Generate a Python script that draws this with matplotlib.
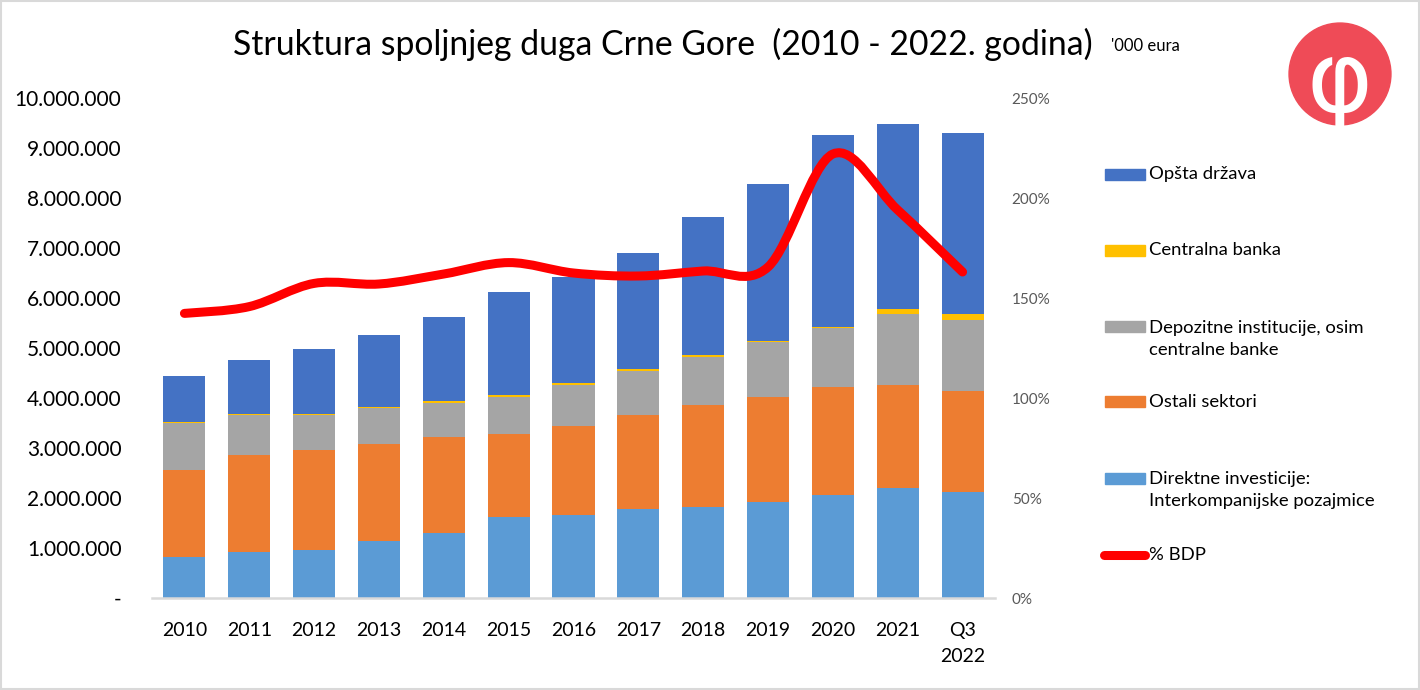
import numpy as np
import matplotlib.pyplot as plt
from matplotlib.path import Path
from matplotlib.patches import PathPatch, Rectangle, Circle
from matplotlib.lines import Line2D
from matplotlib.ticker import FuncFormatter, MultipleLocator

plt.rcParams['font.family'] = ['Lato', 'DejaVu Sans']

## Data ('000 eura)
years = ['2010', '2011', '2012', '2013', '2014', '2015', '2016',
         '2017', '2018', '2019', '2020', '2021', 'Q3\n2022']
direktne = [820000, 930000, 970000, 1140000, 1300000, 1620000, 1660000,
            1780000, 1820000, 1930000, 2060000, 2210000, 2130000]
ostali = [1740000, 1930000, 1990000, 1940000, 1920000, 1660000, 1780000,
          1880000, 2040000, 2090000, 2160000, 2050000, 2010000]
depozitne = [940000, 800000, 700000, 720000, 680000, 740000, 820000,
             880000, 960000, 1100000, 1180000, 1420000, 1420000]
centralna = [20000, 20000, 20000, 20000, 40000, 40000, 40000,
             40000, 40000, 20000, 20000, 100000, 120000]
opsta = [920000, 1080000, 1300000, 1440000, 1680000, 2060000, 2130000,
         2320000, 2760000, 3140000, 3840000, 3700000, 3620000]
bdp = [142.3, 145.7, 157.3, 157.0, 162.0, 167.7, 162.5,
       161.0, 163.5, 165.5, 222.0, 194.0, 163.0]

names = ['Opšta država', 'Centralna banka',
         'Depozitne institucije, osim\ncentralne banke', 'Ostali sektori',
         'Direktne investicije:\nInterkompanijske pozajmice', '% BDP']
title = 'Struktura spoljnjeg duga Crne Gore  (2010 - 2022. godina)'

W, H = 1420, 690
fig = plt.figure(figsize=(W / 100, H / 100), dpi=100)


def fx(px):
    return px / W


def fy(py):
    return 1 - py / H


ax = fig.add_axes([fx(152), fy(598), fx(995) - fx(152), fy(98) - fy(598)])
x = np.arange(len(years))

# stacked bars, bottom to top
stack = [(direktne, '#5B9BD5'), (ostali, '#ED7D31'), (depozitne, '#A5A5A5'),
         (centralna, '#FFC000'), (opsta, '#4472C4')]
bottom = np.zeros(len(years))
for vals, col in stack:
    vals = np.array(vals, dtype=float)
    ax.bar(x, vals, 0.65, bottom=bottom, color=col, linewidth=0)
    bottom += vals

ax.set_xlim(-0.5, len(years) - 0.5)
ax.set_ylim(0, 10000000)
ax.yaxis.set_major_locator(MultipleLocator(1000000))
ax.yaxis.set_major_formatter(FuncFormatter(
    lambda v, p: '-' if v == 0 else f'{int(v):,}'.replace(',', '.')))
ax.set_xticks(x)
ax.set_xticklabels(years, fontsize=14, linespacing=1.7)
ax.tick_params(axis='x', length=0, pad=17)
ax.tick_params(axis='y', length=0, pad=22, labelsize=15)
for s in ['top', 'left', 'right']:
    ax.spines[s].set_visible(False)
ax.spines['bottom'].set_color('#D9D9D9')
ax.spines['bottom'].set_linewidth(1.8)

# % BDP on the right axis, smoothed like Excel (Catmull-Rom as Bezier)
ax2 = ax.twinx()
ax2.set_ylim(0, 250)
ax2.yaxis.set_major_locator(MultipleLocator(50))
ax2.yaxis.set_major_formatter(FuncFormatter(lambda v, p: f'{int(v)}%'))
ax2.tick_params(axis='y', length=0, pad=12, labelsize=11, labelcolor='#595959')
for s in ax2.spines.values():
    s.set_visible(False)

pts = np.column_stack([x, bdp]).astype(float)
verts = [pts[0]]
codes = [Path.MOVETO]
n = len(pts)
for i in range(n - 1):
    p0 = pts[i - 1] if i > 0 else pts[i]
    p1, p2 = pts[i], pts[i + 1]
    p3 = pts[i + 2] if i + 2 < n else pts[i + 1]
    c1 = p1 + (p2 - p0) / 6
    c2 = p2 - (p3 - p1) / 6
    verts += [c1, c2, p2]
    codes += [Path.CURVE4] * 3
ax2.add_patch(PathPatch(Path(verts, codes), facecolor='none',
                        edgecolor='#FF0000', linewidth=6.5,
                        capstyle='round', joinstyle='round'))

# title
fig.text(fx(663), fy(44), title, ha='center', va='center', fontsize=24.3)
fig.text(fx(1111), fy(46), "'000 eura", ha='left', va='center', fontsize=12)

# legend, placed by hand like the Excel one
leg_y = [174, 250, 339, 402, 490, 555]
patch_y = [174, 250, 327, 402, 478]
cols = ['#4472C4', '#FFC000', '#A5A5A5', '#ED7D31', '#5B9BD5']
for py, col in zip(patch_y, cols):
    fig.patches.append(Rectangle((fx(1105), fy(py + 5.5)), fx(40), 11 / H,
                                 transform=fig.transFigure, color=col))
fig.lines.append(Line2D([fx(1104), fx(1145)], [fy(555), fy(555)],
                        transform=fig.transFigure, color='#FF0000',
                        linewidth=6.5, solid_capstyle='round'))
for py, lab in zip(leg_y, names):
    fig.text(fx(1149), fy(py), lab, ha='left', va='center', fontsize=13.3,
             linespacing=1.4)

# logo
lax = fig.add_axes([fx(1287), fy(126), fx(106), 104 / H])
lax.set_xlim(0, 1)
lax.set_ylim(0, 1)
lax.set_aspect('equal')
lax.axis('off')
lax.add_patch(Circle((0.5, 0.5), 0.49, color='#EF4B57'))
lax.text(0.5, 0.4, 'φ', color='white', fontsize=72, ha='center', va='center',
         family='DejaVu Sans')

# light frame around the whole image
fig.patches.append(Rectangle((0.001, 0.001), 0.998, 0.998,
                             transform=fig.transFigure, fill=False,
                             edgecolor='#D9D9D9', linewidth=1.5))

plt.savefig('out.png', dpi=100)
